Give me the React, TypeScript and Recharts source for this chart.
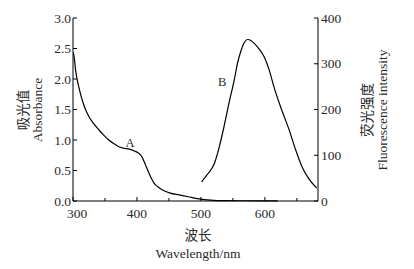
import { ComposedChart, Line, XAxis, YAxis, ReferenceDot } from 'recharts';

const absorbanceData = [
  { x: 300, y: 2.44 }, { x: 301.6, y: 2.38 }, { x: 304, y: 2.15 }, { x: 309, y: 1.87 },
  { x: 317, y: 1.57 }, { x: 325, y: 1.38 }, { x: 333, y: 1.26 }, { x: 341, y: 1.16 },
  { x: 348, y: 1.08 }, { x: 356, y: 1.0 }, { x: 364, y: 0.94 }, { x: 372, y: 0.89 },
  { x: 380, y: 0.865 }, { x: 388, y: 0.85 }, { x: 396, y: 0.82 }, { x: 403, y: 0.78 },
  { x: 408, y: 0.72 }, { x: 411, y: 0.65 }, { x: 415, y: 0.55 }, { x: 419, y: 0.45 },
  { x: 423, y: 0.36 }, { x: 427, y: 0.29 }, { x: 433, y: 0.23 }, { x: 440, y: 0.18 },
  { x: 452, y: 0.13 }, { x: 466, y: 0.1 }, { x: 480, y: 0.07 }, { x: 497, y: 0.035 },
  { x: 515, y: 0.015 }, { x: 535, y: 0.006 }, { x: 570, y: 0.004 }, { x: 620, y: 0.003 },
];

const fluorescenceData = [
  { x: 501, y: 42 }, { x: 510, y: 58 }, { x: 521, y: 82 }, { x: 529, y: 120 },
  { x: 536, y: 162 }, { x: 544, y: 215 }, { x: 552, y: 264 }, { x: 557, y: 300 },
  { x: 563, y: 330 }, { x: 568, y: 347 }, { x: 573, y: 353 }, { x: 578, y: 351 },
  { x: 583, y: 345 }, { x: 591, y: 332 }, { x: 599, y: 315 }, { x: 607, y: 285 },
  { x: 614, y: 250 }, { x: 626, y: 200 }, { x: 638, y: 155 }, { x: 648, y: 112 },
  { x: 658, y: 75 }, { x: 668, y: 50 }, { x: 681, y: 28 },
];

const xTicks = [300, 350, 400, 450, 500, 550, 600, 650];
const leftTicks = [0, 0.25, 0.5, 0.75, 1, 1.25, 1.5, 1.75, 2, 2.25, 2.5, 2.75, 3];
const rightTicks = [0, 50, 100, 150, 200, 250, 300, 350, 400];

const FONT = '"Liberation Serif", "Times New Roman", "Noto Sans CJK SC", serif';
const TXT = '#2a2a2a';

const XTick = ({ x, y, payload }: any) => {
  const major = payload.value % 100 === 0;
  // 300 sits a little right so it clears the 0.0 label
  const dx = payload.value === 300 ? 4 : 0;
  return (
    <g>
      <line x1={x} x2={x} y1={y} y2={y - (major ? 4 : 3)} stroke="#000" />
      {major && (
        <text x={x + dx} y={y + 17} textAnchor="middle" fontSize={13.5} fill={TXT} fontFamily={FONT}>
          {payload.value}
        </text>
      )}
    </g>
  );
};

const LeftTick = ({ x, y, payload }: any) => {
  const major = Math.abs((payload.value * 2) % 1) < 1e-6;
  return (
    <g>
      <line x1={x} x2={x + (major ? 4 : 3)} y1={y} y2={y} stroke="#000" />
      {major && (
        <text x={x - 2} y={y + 4.5} textAnchor="end" fontSize={13.5} fill={TXT} fontFamily={FONT}>
          {payload.value.toFixed(1)}
        </text>
      )}
    </g>
  );
};

const RightTick = ({ x, y, payload }: any) => {
  const major = payload.value % 100 === 0;
  return (
    <g>
      <line x1={x} x2={x - (major ? 4 : 3)} y1={y} y2={y} stroke="#000" />
      {major && (
        <text x={x + 3} y={y + 4.5} textAnchor="start" fontSize={13.5} fill={TXT} fontFamily={FONT}>
          {payload.value}
        </text>
      )}
    </g>
  );
};

export default function App() {
  return (
    <div style={{ position: 'absolute', left: 0, top: 0, width: 414, height: 269, background: '#fff' }}>
      <ComposedChart width={414} height={269} margin={{ top: 18, right: 56, left: 33, bottom: 48 }}>
        <XAxis
          type="number"
          dataKey="x"
          domain={[300, 683]}
          ticks={xTicks}
          allowDataOverflow
          stroke="#000"
          tickLine={false}
          tickSize={0}
          tickMargin={0}
          tick={<XTick />}
          height={20}
        />
        <YAxis
          yAxisId="left"
          type="number"
          domain={[0, 3]}
          ticks={leftTicks}
          stroke="#000"
          tickLine={false}
          tickSize={0}
          tickMargin={0}
          tick={<LeftTick />}
          width={40}
        />
        <YAxis
          yAxisId="right"
          orientation="right"
          type="number"
          domain={[0, 400]}
          ticks={rightTicks}
          stroke="#000"
          tickLine={false}
          tickSize={0}
          tickMargin={0}
          tick={<RightTick />}
          width={40}
        />
        <Line
          yAxisId="left"
          data={absorbanceData}
          dataKey="y"
          type="monotone"
          stroke="#000"
          strokeWidth={1.2}
          dot={false}
          isAnimationActive={false}
        />
        <Line
          yAxisId="right"
          data={fluorescenceData}
          dataKey="y"
          type="monotone"
          stroke="#000"
          strokeWidth={1.2}
          dot={false}
          isAnimationActive={false}
        />
        <ReferenceDot
          yAxisId="left"
          x={389}
          y={0.96}
          r={0}
          label={{ value: 'A', position: 'center', fontSize: 12.5, fill: TXT, fontFamily: FONT }}
        />
        <ReferenceDot
          yAxisId="right"
          x={533}
          y={262}
          r={0}
          label={{ value: 'B', position: 'center', fontSize: 12.5, fill: TXT, fontFamily: FONT }}
        />
      </ComposedChart>
      <svg width={414} height={269} style={{ position: 'absolute', left: 0, top: 0, pointerEvents: 'none' }}>
        <g fontFamily={FONT} fill={TXT} fontSize={13.5} textAnchor="middle">
          <text transform="translate(28,110) rotate(-90)">吸光值</text>
          <text transform="translate(42,110) rotate(-90)">Absorbance</text>
          <text transform="translate(372,110) rotate(-90)">荧光强度</text>
          <text transform="translate(387,110) rotate(-90)">Fluorescence intensity</text>
          <text x={198} y={240}>波长</text>
          <text x={198} y={258}>Wavelength/nm</text>
        </g>
      </svg>
    </div>
  );
}
